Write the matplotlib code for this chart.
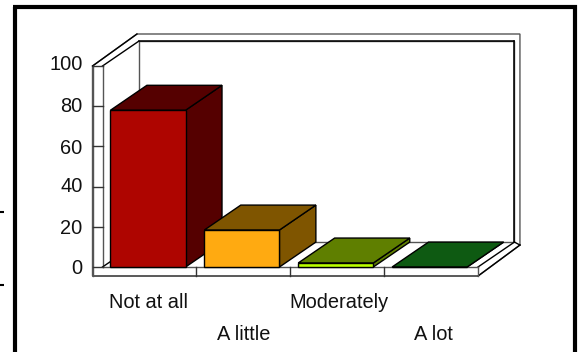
import matplotlib
matplotlib.use("Agg")
import matplotlib.pyplot as plt
from matplotlib.lines import Line2D
from matplotlib.patches import Polygon

W, H = 579, 352

categories = ["Not at all", "A little", "Moderately", "A lot"]
values = [78, 18.4, 2, 0]
front_colors = ["#AE0500", "#FFAA11", "#BBFF00", "#0E5A12"]
shade_colors = ["#550000", "#7F5500", "#5F7F00", "#0E5A12"]
yticks = [0, 20, 40, 60, 80, 100]

# 3d look: how far back the box goes, in axis units
depth_x = 0.388
depth_y = 12.4
bar_left = 0.085
bar_width = 0.80

plt.rcParams['font.family'] = ['Liberation Sans', 'DejaVu Sans']

fig = plt.figure(figsize=(W / 100, H / 100), dpi=100)
# plot plane: x 102.5-478 px, y 66-267 px
ax = fig.add_axes([102.5 / W, 1 - 267 / H, 375.5 / W, 201 / H])
ax.set_xlim(0, len(categories))
ax.set_ylim(0, 100)
ax.axis("off")


def poly(pts, color, edge="black", lw=1.0, z=2):
    ax.add_patch(Polygon(pts, closed=True, facecolor=color, edgecolor=edge,
                         linewidth=lw, joinstyle="miter", zorder=z, clip_on=False))


def line(xs, ys, color="black", lw=1.0, z=1):
    ax.add_line(Line2D(xs, ys, color=color, linewidth=lw, zorder=z, clip_on=False))


n = len(categories)
top = yticks[-1]
wall_x = 10 / 94      # wall thickness
slab = 4.5            # floor thickness
gray = "#555555"

# outer shell
outer_dx = 44.5 / 94
outer_dy = 32 / 2.01
outer_rx = 42 / 94
outer_ry = 31 / 2.01 - slab
poly([(-wall_x, -slab), (-wall_x, top), (-wall_x + outer_dx, top + outer_dy),
      (n + outer_rx, top + outer_dy), (n + outer_rx, outer_ry), (n, -slab)],
     "white", edge=gray, z=1)
# inner back wall
poly([(depth_x, depth_y), (depth_x, top + depth_y), (n + depth_x, top + depth_y),
      (n + depth_x, depth_y)], "white", edge=gray, z=1.1)
line([depth_x, n + depth_x], [top + depth_y] * 2, lw=1.1, z=1.2)
line([n + depth_x] * 2, [depth_y, top + depth_y], lw=1.1, z=1.2)
line([0, depth_x], [top, top + depth_y], lw=1.0, z=1.2)
line([-wall_x, -wall_x + outer_dx], [top, top + outer_dy], lw=1.0, z=1.2)
line([n, n + outer_rx], [-slab, outer_ry], lw=1.0, z=1.2)
line([n, n + depth_x], [0, depth_y], lw=1.0, z=1.2)
line([n + depth_x, n + outer_rx], [depth_y, outer_ry], lw=1.0, z=1.2)

# left wall and floor front
line([0, 0], [0, top], color=gray, lw=1.0, z=1.3)
line([0, depth_x], [0, depth_y], lw=1.0, z=1.3)
line([-wall_x, n], [-slab, -slab], color=gray, lw=1.2, z=1.3)
line([0, n], [0, 0], color=gray, lw=1.0, z=1.3)
line([n, n], [0, -slab], color=gray, lw=1.0, z=1.3)
line([-wall_x, -wall_x], [-slab, top], color=gray, lw=1.0, z=1.3)
for i in range(1, n):
    line([i, i], [-slab, 0], color="#333333", lw=1.0, z=1.3)

label_lift = [-2, -2, 0, -2, 0, 2]
for i, t in enumerate(yticks):
    line([-wall_x, 0], [t, t], color="#333333", lw=1.0, z=1.3)
    ax.annotate(str(t), xy=(-wall_x, t), xytext=(-10, label_lift[i]), textcoords="offset pixels",
                ha="right", va="center", fontsize=14.4, color="#111111",
                annotation_clip=False)

# bars, left to right so each one covers the side of the one before
for i, v in enumerate(values):
    x0 = i + bar_left
    x1 = x0 + bar_width
    z = 3 + i
    poly([(x1, 0), (x1 + depth_x, depth_y), (x1 + depth_x, v + depth_y), (x1, v)],
         shade_colors[i], z=z)
    poly([(x0, v), (x0 + depth_x, v + depth_y), (x1 + depth_x, v + depth_y), (x1, v)],
         shade_colors[i], z=z)
    poly([(x0, 0), (x1, 0), (x1, v), (x0, v)], front_colors[i], z=z)

# staggered category labels
label_shift = [-1, 0, 2, 2]
for i, c in enumerate(categories):
    drop = 41 if i % 2 == 0 else 73
    ax.annotate(c, xy=(i + 0.5, 0), xytext=(label_shift[i], -drop), textcoords="offset pixels",
                ha="center", va="baseline", fontsize=14.4, color="#111111",
                annotation_clip=False)

# slide frame, cut by the bottom of the image
for xs, ys in [((14.5, 14.5), (H, 7)), ((12.5, 576.5), (7, 7)), ((574.5, 574.5), (5, H)),
               ((0, 4), (212, 212)), ((0, 4), (285, 285))]:
    lw = 3.0 if xs[0] != 0 else 1.5
    fig.add_artist(Line2D([x / W for x in xs], [1 - y / H for y in ys], color="black",
                          linewidth=lw, solid_capstyle="butt", transform=fig.transFigure))

fig.savefig("out.png", dpi=100)
